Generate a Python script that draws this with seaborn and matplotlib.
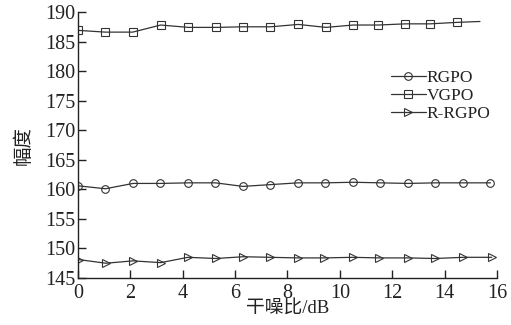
import matplotlib
matplotlib.use("Agg")
import matplotlib.pyplot as plt
import seaborn as sns
import pandas as pd

# data
x_rgpo = [0, 1.05, 2.1, 3.15, 4.2, 5.25, 6.3, 7.35, 8.4, 9.45, 10.5, 11.55, 12.6, 13.65, 14.7, 15.75]
y_rgpo = [160.6, 160.1, 161.0, 161.0, 161.1, 161.1, 160.5, 160.8, 161.1, 161.1, 161.2, 161.1, 161.0, 161.1, 161.1, 161.1]

x_vgpo = [0, 1.04, 2.09, 3.16, 4.22, 5.27, 6.31, 7.35, 8.41, 9.47, 10.51, 11.47, 12.5, 13.45, 14.47, 15.35]
y_vgpo = [186.9, 186.6, 186.6, 187.8, 187.4, 187.4, 187.5, 187.5, 187.9, 187.4, 187.8, 187.8, 188.0, 188.0, 188.25, 188.4]

x_rr = [0.05, 1.07, 2.1, 3.16, 4.2, 5.27, 6.31, 7.35, 8.4, 9.4, 10.5, 11.5, 12.6, 13.65, 14.7, 15.8]
y_rr = [148.1, 147.5, 147.9, 147.6, 148.5, 148.3, 148.6, 148.5, 148.4, 148.4, 148.5, 148.4, 148.4, 148.3, 148.5, 148.5]

labels = ["RGPO", "VGPO", "R-RGPO"]
xticks = [0, 2, 4, 6, 8, 10, 12, 14, 16]
yticks = [145, 150, 155, 160, 165, 170, 175, 180, 185, 190]

sns.set_theme(style="white")
serif = ["Liberation Serif", "Noto Sans CJK SC"]
plt.rcParams["font.family"] = serif

fig = plt.figure(figsize=(5.11, 3.25), dpi=100)
ax = fig.add_axes([0.1526, 0.1446, 0.82, 0.8184])

col = "#333333"
common = dict(color=col, linewidth=0.9, markersize=5.5, markerfacecolor="none",
              markeredgecolor=col, markeredgewidth=0.8)

sns.lineplot(x=x_rgpo, y=y_rgpo, ax=ax, marker="o", label=labels[0], **common)
sns.lineplot(x=x_vgpo, y=y_vgpo, ax=ax, marker="s", label=labels[1],
             markevery=list(range(len(x_vgpo) - 1)), **common)
sns.lineplot(x=x_rr, y=y_rr, ax=ax, marker=">", label=labels[2], **common)

ax.set_xlim(0, 16)
ax.set_ylim(145, 190)
ax.set_xticks(xticks)
ax.set_yticks(yticks)
ax.tick_params(direction="in", length=6, width=1, colors="#222222", labelsize=14.5,
               left=True, bottom=True, pad=2)
ax.tick_params(axis="x", pad=4)
for lab in ax.get_xticklabels() + ax.get_yticklabels():
    lab.set_color("#222222")
for s in ["top", "right"]:
    ax.spines[s].set_visible(False)
for s in ["left", "bottom"]:
    ax.spines[s].set_color("#222222")
    ax.spines[s].set_linewidth(1.0)

ax.set_xlabel("干噪比/dB", fontsize=13.5, color="#222222", labelpad=-1, family=serif)
ax.set_ylabel("幅度", fontsize=14, color="#222222", labelpad=9, family=serif)

leg = ax.legend(loc="upper left", bbox_to_anchor=(0.73, 0.81), frameon=False,
                fontsize=12.5, handlelength=2.0, handletextpad=0.05, labelspacing=0.12,
                borderaxespad=0)
for t in leg.get_texts():
    t.set_color("#222222")

fig.savefig("out.png", dpi=100)
